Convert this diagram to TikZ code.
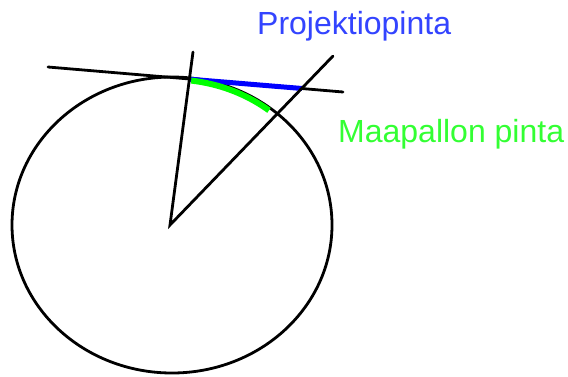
\documentclass[tikz,border=0pt]{standalone}
\usepackage{fontspec}
\setmainfont{Liberation Sans}
\definecolor{labelblue}{RGB}{51,68,255}
\definecolor{labelgreen}{RGB}{51,255,51}
\begin{document}
\begin{tikzpicture}[x=1pt, y=-1pt, line cap=round,
    earth/.style={line width=2.8pt},
    label/.style={anchor=base west, inner sep=0pt, font=\fontsize{32}{38}\selectfont}]
    \useasboundingbox (0,0) rectangle (568,376);

    % 1. Maapallo ja tangenttitaso
    \draw[earth] (172,225) ellipse [x radius=160, y radius=148];
    \coordinate (L) at (48,67);
    \coordinate (R) at (343,92);
    \draw[earth] (L) -- (R);

    % 2. Projektiopinta (sininen) ja maapallon pinta (vihreä)
    \coordinate (T) at (190,79.2);
    \coordinate (P) at (302,88.5);
    \draw[blue, line width=5pt, line cap=butt] (T) -- (P);
    \draw[green, line width=6pt, line cap=butt, samples=40, domain=83:52]
        plot ({172+157.5*cos(\x)}, {225-145.5*sin(\x)});

    % 3. Säteet keskipisteestä
    \coordinate (O) at (170,225);
    \coordinate (A) at (193,52);
    \coordinate (B) at (333,56);
    \draw[earth, line join=miter] (A) -- (O) -- (B);

    % 4. Nimet
    \node[label, text=labelblue] (proj) at (257,34) {Projektiopinta};
    \node[label, text=labelgreen] (maa) at (338,142) {Maapallon pinta};
\end{tikzpicture}
\end{document}
